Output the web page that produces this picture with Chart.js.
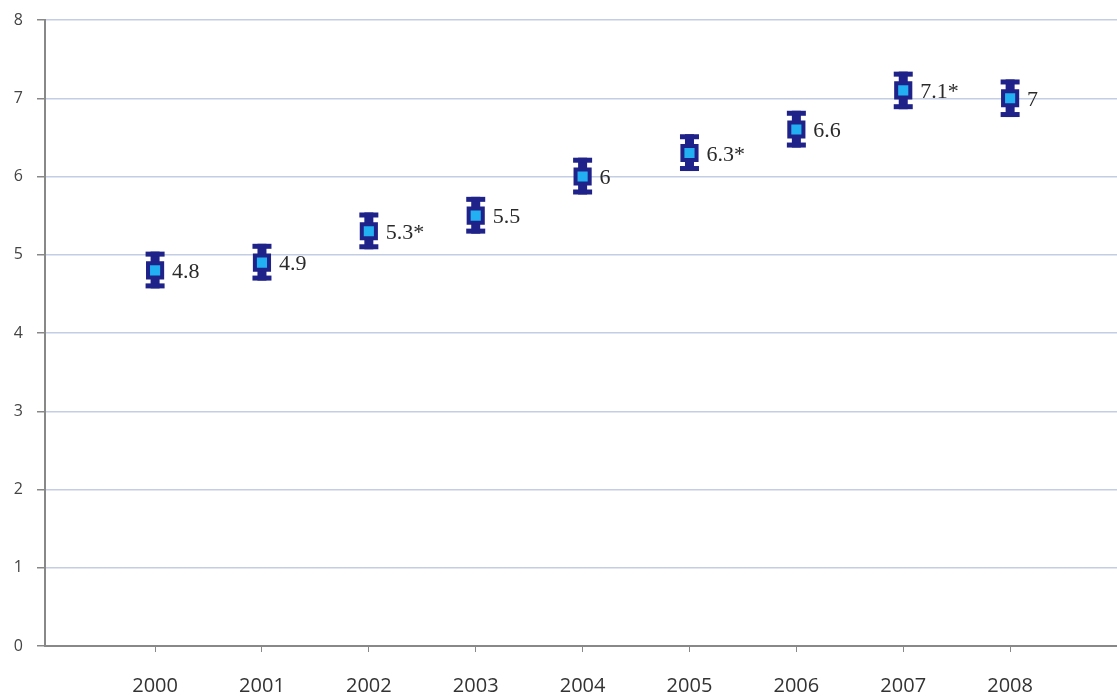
<!DOCTYPE html>
<html>
<head>
<meta charset="utf-8">
<script src="https://cdn.jsdelivr.net/npm/chart.js@4"></script>
<style>
  html,body{margin:0;padding:0;background:#fff;}
  #wrap{width:1117px;height:696px;position:relative;}
</style>
</head>
<body>
<div id="wrap"><canvas id="c"></canvas></div>
<script>
// values
const years = [2000, 2001, 2002, 2003, 2004, 2005, 2006, 2007, 2008];
const rates = [4.8, 4.9, 5.3, 5.5, 6.0, 6.3, 6.6, 7.1, 7.0];
const lower = [4.57, 4.67, 5.07, 5.27, 5.77, 6.07, 6.37, 6.86, 6.76];
const upper = [5.04, 5.14, 5.54, 5.74, 6.24, 6.54, 6.84, 7.34, 7.24];
const pointLabels = ['4.8', '4.9', '5.3*', '5.5', '6', '6.3*', '6.6', '7.1*', '7'];
const yTicks = [0, 1, 2, 3, 4, 5, 6, 7, 8];

const NAVY = '#1f2289';
const LIGHT = '#22b0f2';

const errorBars = {
  id: 'errorBars',
  beforeDatasetsDraw(chart){
    const {ctx, scales:{x, y}} = chart;
    ctx.save();
    ctx.fillStyle = NAVY;
    years.forEach((yr, i) => {
      const px = x.getPixelForValue(yr);
      const top = y.getPixelForValue(upper[i]);
      const bot = y.getPixelForValue(lower[i]);
      ctx.fillRect(px - 4.5, top, 9, bot - top);
      ctx.fillRect(px - 9.5, top, 19, 5);
      ctx.fillRect(px - 9.5, bot - 5, 19, 5);
    });
    ctx.restore();
  }
};

const valueLabels = {
  id: 'valueLabels',
  afterDatasetsDraw(chart){
    const {ctx} = chart;
    const meta = chart.getDatasetMeta(0);
    ctx.save();
    ctx.font = '22px "Liberation Serif", serif';
    ctx.fillStyle = '#2a2a2a';
    ctx.textAlign = 'left';
    ctx.textBaseline = 'middle';
    meta.data.forEach((pt, i) => {
      ctx.fillText(pointLabels[i], pt.x + 17, pt.y + 2);
    });
    ctx.restore();
  }
};

new Chart(document.getElementById('c'), {
  type: 'scatter',
  data: {
    datasets: [{
      data: years.map((yr, i) => ({x: yr, y: rates[i]})),
      pointStyle: 'rect',
      pointRadius: 10,
      pointHoverRadius: 10,
      backgroundColor: LIGHT,
      borderColor: NAVY,
      borderWidth: 4,
      showLine: false
    }]
  },
  options: {
    responsive: true,
    maintainAspectRatio: false,
    animation: false,
    layout: {autoPadding: false, padding: {top: 20, right: 0, left: 0, bottom: 0}},
    plugins: {legend: {display: false}, tooltip: {enabled: false}},
    scales: {
      x: {
        type: 'linear',
        min: 1998.97,
        max: 2009,
        afterBuildTicks: s => { s.ticks = years.map(v => ({value: v})); },
        afterFit: s => { s.height = 50; s.paddingLeft = 0; s.paddingRight = 0; },
        grid: {display: true, drawOnChartArea: false, tickLength: 6, tickColor: '#888'},
        border: {color: '#888', width: 2},
        ticks: {
          color: '#333',
          font: {family: '"Open Sans", Lato, sans-serif', size: 20},
          padding: 22,
          maxRotation: 0,
          autoSkip: false,
          callback: v => String(v)
        }
      },
      y: {
        min: 0,
        max: 8,
        afterBuildTicks: s => { s.ticks = yTicks.map(v => ({value: v})); },
        afterFit: s => { s.width = 45; s.paddingTop = 0; s.paddingBottom = 0; },
        grid: {color: '#c3cde3', lineWidth: 1.5, tickLength: 8, tickColor: '#888'},
        border: {color: '#888', width: 2},
        ticks: {
          color: '#444',
          font: {family: '"Open Sans", Lato, sans-serif', size: 16},
          padding: 14
        }
      }
    }
  },
  plugins: [errorBars, valueLabels]
});
</script>
</body>
</html>
